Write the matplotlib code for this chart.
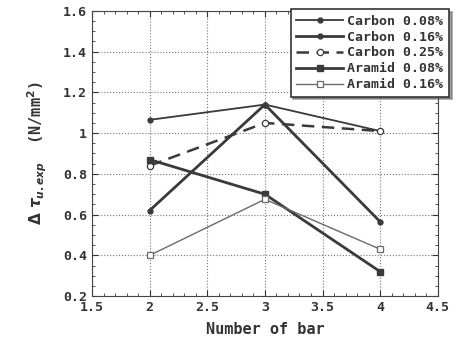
import matplotlib
matplotlib.use('Agg')
import matplotlib.pyplot as plt
from matplotlib.ticker import MultipleLocator

bars = [2, 3, 4]
carbon_008 = [1.065, 1.14, 1.01]
carbon_016 = [0.62, 1.14, 0.565]
carbon_025 = [0.84, 1.05, 1.01]
aramid_008 = [0.87, 0.70, 0.32]
aramid_016 = [0.40, 0.675, 0.43]

plt.rcParams['font.family'] = 'DejaVu Sans Mono'
plt.rcParams['font.weight'] = 'bold'

fig = plt.figure(figsize=(4.59, 3.5), dpi=100)
ax = fig.add_axes([0.2004, 0.154, 0.7534, 0.815])

dark = '#3a3a3a'
ax.plot(bars, carbon_008, '-', color=dark, lw=1.3, marker='o', ms=3.5, label='Carbon 0.08%')
ax.plot(bars, carbon_016, '-', color=dark, lw=2.0, marker='o', ms=3.5, label='Carbon 0.16%')
ax.plot(bars, carbon_025, '--', color=dark, lw=1.8, marker='o', ms=4.5, mfc='white', mew=0.9,
        dashes=(5, 3), label='Carbon 0.25%')
ax.plot(bars, aramid_008, '-', color=dark, lw=2.0, marker='s', ms=4.5, label='Aramid 0.08%')
ax.plot(bars, aramid_016, '-', color='#6a6a6a', lw=1.0, marker='s', ms=5, mfc='white', mew=0.9,
        label='Aramid 0.16%')

ax.set_xlim(1.5, 4.5)
ax.set_ylim(0.2, 1.6)
ax.set_xticks([1.5, 2, 2.5, 3, 3.5, 4, 4.5])
ax.set_xticklabels(['1.5', '2', '2.5', '3', '3.5', '4', '4.5'])
ax.set_yticks([0.2, 0.4, 0.6, 0.8, 1.0, 1.2, 1.4, 1.6])
ax.set_yticklabels(['0.2', '0.4', '0.6', '0.8', '1', '1.2', '1.4', '1.6'])
ax.xaxis.set_minor_locator(MultipleLocator(0.1))
ax.yaxis.set_minor_locator(MultipleLocator(0.05))
ax.tick_params(which='both', direction='in', top=True, right=True, colors='#333333', labelsize=9.5)
ax.tick_params(which='major', length=4)
ax.tick_params(which='minor', length=2)
ax.grid(True, which='major', linestyle=':', color='#777777', lw=0.8)
for s in ax.spines.values():
    s.set_color('#444444')

ax.set_xlabel('Number of bar', fontsize=11, fontweight='bold', color='#333333', labelpad=6)
ax.set_ylabel(r'$\Delta\ \tau_{u.exp}$  (N/mm$^2$)', fontsize=11, fontweight='bold', color='#333333',
              labelpad=10)

leg = fig.legend(loc='upper right', bbox_to_anchor=(0.992, 0.992), fontsize=9.5,
                 handlelength=3.6, handletextpad=0.3, labelspacing=0.22, borderpad=0.4,
                 fancybox=False, shadow=True, framealpha=1, edgecolor='#333333')
leg.get_frame().set_linewidth(1.2)
for t in leg.get_texts():
    t.set_color('#333333')

fig.savefig('out.png', dpi=100)
